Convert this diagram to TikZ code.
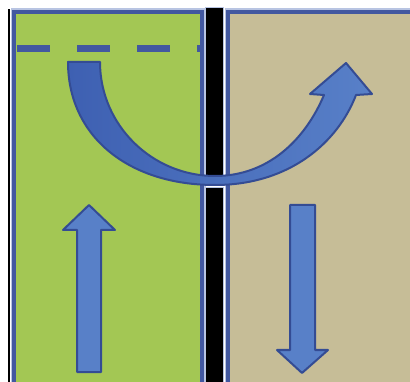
\documentclass[tikz,border=0pt]{standalone}
\usetikzlibrary{calc}
\definecolor{panelgreen}{RGB}{163,199,84}
\definecolor{paneltan}{RGB}{198,189,151}
\definecolor{rimblue}{RGB}{66,88,160}
\definecolor{rimlight}{RGB}{184,196,226}
\definecolor{arrowfill}{RGB}{88,128,200}
\definecolor{arrowdark}{RGB}{62,96,178}
\definecolor{arrowrim}{RGB}{52,76,148}

\begin{document}
\begin{tikzpicture}[x=1pt, y=-1pt,
        halo/.style={draw=rimlight, line width=7pt},
        panel/.style={draw=rimblue, line width=4pt},
        divider/.style={fill=black, draw=rimlight, line width=1pt},
        blockarrow/.style={draw=arrowrim, line width=2pt, line join=round, fill=arrowfill}
    ]
        \useasboundingbox (0,0) rectangle (410,382);
        \clip (0,0) rectangle (410,382);
        \fill[white] (0,0) rectangle (410,382);

        % two panels
        \fill[black] (8,9) rectangle (10,382);
        \draw[halo] (14,12) rectangle (202,400);
        \draw[halo] (228,12) rectangle (420,400);
        \filldraw[panel, fill=panelgreen] (14,12) rectangle (202,400);
        \filldraw[panel, fill=paneltan] (228,12) rectangle (420,400);

        % black divider, broken under the curve
        \foreach \ya/\yb in {8/185, 188/390}
            \filldraw[divider] (205,\ya) rectangle (223,\yb);

        % dashed level in the left panel
        \draw[rimblue, line width=7pt, dash pattern=on 33pt off 27pt] (17,49) -- (204,49);

        % curved arrow across the divider
        \filldraw[blockarrow, left color=arrowdark, right color=arrowfill]
            (68,62) -- (100,62)
            .. controls (100,125) and (152,176) .. (215,176)
            .. controls (268,176) and (305,140) .. (324,95)
            -- (310,94) -- (346,63) -- (372,94) -- (356,95)
            .. controls (338,142) and (290,185) .. (215,185)
            .. controls (128,185) and (68,136) .. (68,62) -- cycle;

        % up arrow (left) and down arrow (right)
        \filldraw[blockarrow] (77,372) -- (77,230) -- (63,230) -- (89,205)
            -- (115,230) -- (101,230) -- (101,372) -- cycle;
        \filldraw[blockarrow] (290,205) -- (290,350) -- (277,350) -- (302,373)
            -- (328,350) -- (315,350) -- (315,205) -- cycle;
    \end{tikzpicture}
\end{document}
